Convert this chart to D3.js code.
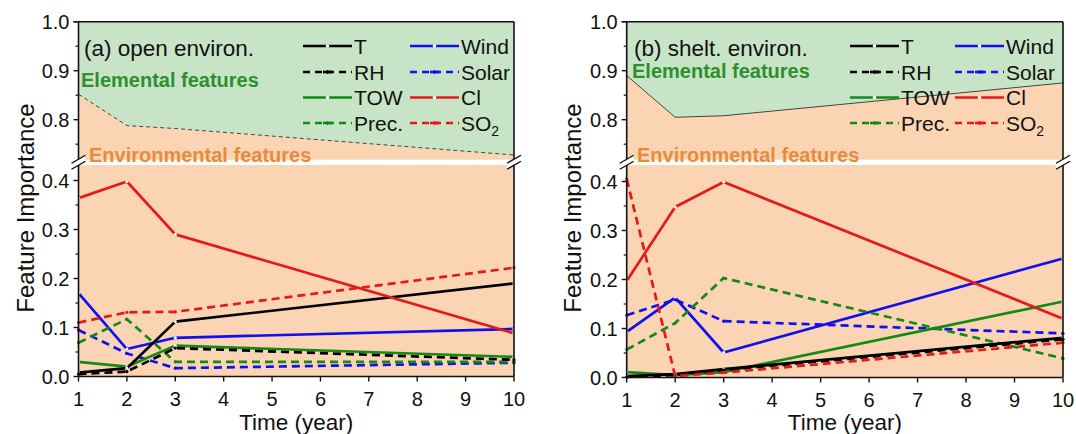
<!DOCTYPE html>
<html><head><meta charset="utf-8">
<script src="https://cdn.jsdelivr.net/npm/d3@7"></script>
<style>body{margin:0;background:#fff}svg{display:block}text{font-family:"Liberation Sans",Arial,sans-serif}</style>
</head><body>
<svg id="c" width="1076" height="434"></svg>
<script>
// ---------------- DATA ----------------
const years = [1, 2, 3, 10];
const seriesNames = ["T", "RH", "TOW", "Prec.", "Wind", "Solar", "Cl", "SO2"];
const xTicks = [1, 2, 3, 4, 5, 6, 7, 8, 9, 10];
const yTicksLow = [0.0, 0.1, 0.2, 0.3, 0.4];
const yTicksUp = [0.8, 0.9, 1.0];
const yMinorLow = [0.05, 0.15, 0.25, 0.35];
const yMinorUp = [0.75, 0.85, 0.95];

// (a) open environment
const openT     = [0.008, 0.017, 0.112, 0.190];
const openRH    = [0.005, 0.010, 0.058, 0.034];
const openTOW   = [0.030, 0.020, 0.063, 0.040];
const openPrec  = [0.069, 0.117, 0.030, 0.030];
const openWind  = [0.170, 0.056, 0.079, 0.097];
const openSolar = [0.095, 0.047, 0.017, 0.028];
const openCl    = [0.364, 0.398, 0.290, 0.088];
const openSO2   = [0.110, 0.131, 0.132, 0.222];
const openEnvTotal = [0.852, 0.788, 0.782, 0.728];

// (b) sheltered environment
const sheltT     = [0.003, 0.007, 0.017, 0.081];
const sheltRH    = [0.001, 0.005, 0.015, 0.078];
const sheltTOW   = [0.011, 0.005, 0.011, 0.155];
const sheltPrec  = [0.057, 0.111, 0.203, 0.039];
const sheltWind  = [0.093, 0.163, 0.051, 0.243];
const sheltSolar = [0.127, 0.159, 0.115, 0.090];
const sheltCl    = [0.197, 0.348, 0.399, 0.120];
const sheltSO2   = [0.405, 0.003, 0.010, 0.071];
const sheltEnvTotal = [0.890, 0.805, 0.808, 0.875];

// ---------------- STYLE ----------------
const colors = {T:"#000000", RH:"#000000", TOW:"#138a13", "Prec.":"#138a13", Wind:"#1010ee", Solar:"#1010ee", Cl:"#e41a1a", SO2:"#e41a1a"};
const dashed = {T:false, RH:true, TOW:false, "Prec.":true, Wind:false, Solar:true, Cl:false, SO2:true};
const ORANGE = "#fbd4b4", GREEN = "#c7e5c6";

const panels = [
  {title:"(a) open environ.", data:[openT,openRH,openTOW,openPrec,openWind,openSolar,openCl,openSO2], env:openEnvTotal,
   x0:78.5, x1:514, yLow0:376.5, yUp1:21.7, upBottom:159.5, lowTop:165, ppu:490,
   titleX:84, elemX:81, elemY:87, envX:89, envY:162, ytitleX:34,
   legX:[303, 410], envDash:"4,3"},
  {title:"(b) shelt. environ.", data:[sheltT,sheltRH,sheltTOW,sheltPrec,sheltWind,sheltSolar,sheltCl,sheltSO2], env:sheltEnvTotal,
   x0:626.7, x1:1063, yLow0:377.5, yUp1:21.7, upBottom:159.5, lowTop:165, ppu:490,
   titleX:634, elemX:632, elemY:78, envX:637, envY:162, ytitleX:581,
   legX:[850, 955], envDash:null}
];

const svg = d3.select("#c");

panels.forEach(p => {
  const g = svg.append("g");
  const x = d3.scaleLinear().domain([1, 10]).range([p.x0, p.x1]);
  const yLow = d3.scaleLinear().domain([0, 0.4]).range([p.yLow0, p.yLow0 - 0.4 * p.ppu]);
  const yUp = d3.scaleLinear().domain([0.8, 1.0]).range([p.yUp1 + 0.2 * p.ppu, p.yUp1]);
  const W = p.x1 - p.x0;

  // upper segment backgrounds
  g.append("rect").attr("x", p.x0).attr("y", p.yUp1).attr("width", W).attr("height", p.upBottom - p.yUp1).attr("fill", GREEN);
  const envPts = years.map((yr, i) => [yr, p.env[i]]);
  g.append("path").datum(envPts)
    .attr("d", d3.area().x(d => x(d[0])).y0(p.upBottom).y1(d => yUp(d[1])))
    .attr("fill", ORANGE);
  g.append("path").datum(envPts)
    .attr("d", d3.line().x(d => x(d[0])).y(d => yUp(d[1])))
    .attr("fill", "none").attr("stroke", "#444").attr("stroke-width", 1)
    .attr("stroke-dasharray", p.envDash);
  // lower segment background
  g.append("rect").attr("x", p.x0).attr("y", p.lowTop).attr("width", W).attr("height", p.yLow0 - p.lowTop).attr("fill", ORANGE);

  // labels
  g.append("text").attr("x", p.titleX).attr("y", 56).attr("font-size", 22.5).attr("fill", "#111").text(p.title);
  g.append("text").attr("x", p.elemX).attr("y", p.elemY).attr("font-size", 20).attr("font-weight", "bold").attr("fill", "#2e8f2e").text("Elemental features");

  // series lines
  const line = d3.line().x(d => x(d[0])).y(d => yLow(d[1]));
  const drawOrder = [4, 5, 2, 3, 0, 1, 7, 6];
  drawOrder.forEach(si => {
    const name = seriesNames[si];
    const pts = years.map((yr, i) => [yr, p.data[si][i]]);
    g.append("path").datum(pts).attr("d", line)
      .attr("fill", "none").attr("stroke", colors[name]).attr("stroke-width", 2.7)
      .attr("stroke-linejoin", "round")
      .attr("stroke-dasharray", dashed[name] ? "8,5" : null);
    g.selectAll(null).data(pts).join("circle")
      .attr("cx", d => x(d[0])).attr("cy", d => yLow(d[1])).attr("r", 1.6)
      .attr("fill", dashed[name] ? colors[name] : "#fff");
  });

  g.append("text").attr("x", p.envX).attr("y", p.envY).attr("font-size", 20).attr("font-weight", "bold").attr("fill", "#e98a3c").text("Environmental features");

  // legend
  const rowsY = [46, 72, 97.5, 123];
  seriesNames.forEach((name, i) => {
    const col = i < 4 ? 0 : 1, row = i % 4;
    const lx = p.legX[col], ly = rowsY[row];
    g.append("line").attr("x1", lx).attr("x2", lx + 49).attr("y1", ly).attr("y2", ly)
      .attr("stroke", colors[name]).attr("stroke-width", 2.7)
      .attr("stroke-dasharray", dashed[name] ? "7,5" : null);
    if (dashed[name]) {
      g.append("line").attr("x1", lx + 20).attr("x2", lx + 29).attr("y1", ly).attr("y2", ly).attr("stroke", colors[name]).attr("stroke-width", 2.7);
      g.append("line").attr("x1", lx + 24.5).attr("x2", lx + 24.5).attr("y1", ly - 2).attr("y2", ly + 2).attr("stroke", colors[name]).attr("stroke-width", 1.2);
    } else {
      g.append("circle").attr("cx", lx + 24.5).attr("cy", ly).attr("r", 1.8).attr("fill", "#fff");
    }
    const t = g.append("text").attr("x", lx + 51).attr("y", ly + 7.5).attr("font-size", 21).attr("fill", "#111");
    if (name === "SO2") {
      t.append("tspan").text("SO");
      t.append("tspan").attr("font-size", 14).attr("dy", 5).text("2");
    } else t.text(name);
  });

  // axes
  const ax = g.append("g").attr("stroke", "#111").attr("fill", "none");
  const yBot = p.yLow0, yTop = p.yUp1;
  ax.append("line").attr("x1", p.x0).attr("x2", p.x0).attr("y1", yTop).attr("y2", yBot).attr("stroke-width", 1.6);
  ax.append("line").attr("x1", p.x1).attr("x2", p.x1).attr("y1", yTop).attr("y2", yBot).attr("stroke-width", 1.6);
  ax.append("line").attr("x1", p.x0 - 5).attr("x2", p.x1).attr("y1", yTop).attr("y2", yTop).attr("stroke-width", 1.6);
  ax.append("line").attr("x1", p.x0).attr("x2", p.x1).attr("y1", yBot).attr("y2", yBot).attr("stroke-width", 1.6);

  // y ticks
  const yt = [...yTicksLow.map(v => yLow(v)), ...yTicksUp.map(v => yUp(v))];
  const ym = [...yMinorLow.map(v => yLow(v)), ...yMinorUp.map(v => yUp(v))];
  yt.forEach(yy => ax.append("line").attr("x1", p.x0 - 5).attr("x2", p.x0).attr("y1", yy).attr("y2", yy).attr("stroke-width", 1.4));
  ym.forEach(yy => ax.append("line").attr("x1", p.x0 - 3).attr("x2", p.x0).attr("y1", yy).attr("y2", yy).attr("stroke-width", 1.2));
  xTicks.forEach(v => ax.append("line").attr("x1", x(v)).attr("x2", x(v)).attr("y1", yBot).attr("y2", yBot + 5).attr("stroke-width", 1.4));

  const tl = g.append("g").attr("font-size", 20).attr("fill", "#111");
  yTicksLow.forEach(v => tl.append("text").attr("x", p.x0 - 9).attr("y", yLow(v)).attr("dy", "0.36em").attr("text-anchor", "end").text(d3.format(".1f")(v)));
  yTicksUp.forEach(v => tl.append("text").attr("x", p.x0 - 9).attr("y", yUp(v)).attr("dy", "0.36em").attr("text-anchor", "end").text(d3.format(".1f")(v)));
  xTicks.forEach(v => tl.append("text").attr("x", x(v)).attr("y", yBot + 29).attr("text-anchor", "middle").text(v));

  // axis break marks
  const bm = (p.upBottom + p.lowTop) / 2;
  [p.x0, p.x1].forEach(xx => {
    g.append("polygon").attr("points", `${xx-7},${bm+1} ${xx+7},${bm-7} ${xx+7},${bm-1} ${xx-7},${bm+7}`).attr("fill", "#fff");
    g.append("line").attr("x1", xx - 7).attr("y1", bm + 1).attr("x2", xx + 7).attr("y2", bm - 7).attr("stroke", "#111").attr("stroke-width", 1.4);
    g.append("line").attr("x1", xx - 7).attr("y1", bm + 7).attr("x2", xx + 7).attr("y2", bm - 1).attr("stroke", "#111").attr("stroke-width", 1.4);
  });

  // axis titles
  g.append("text").attr("x", (p.x0 + p.x1) / 2).attr("y", 430).attr("text-anchor", "middle").attr("font-size", 22.5).attr("fill", "#111").text("Time (year)");
  g.append("text").attr("transform", `translate(${p.ytitleX},208) rotate(-90)`).attr("text-anchor", "middle").attr("font-size", 24).attr("fill", "#111").text("Feature Importance");
});
</script>
</body></html>
